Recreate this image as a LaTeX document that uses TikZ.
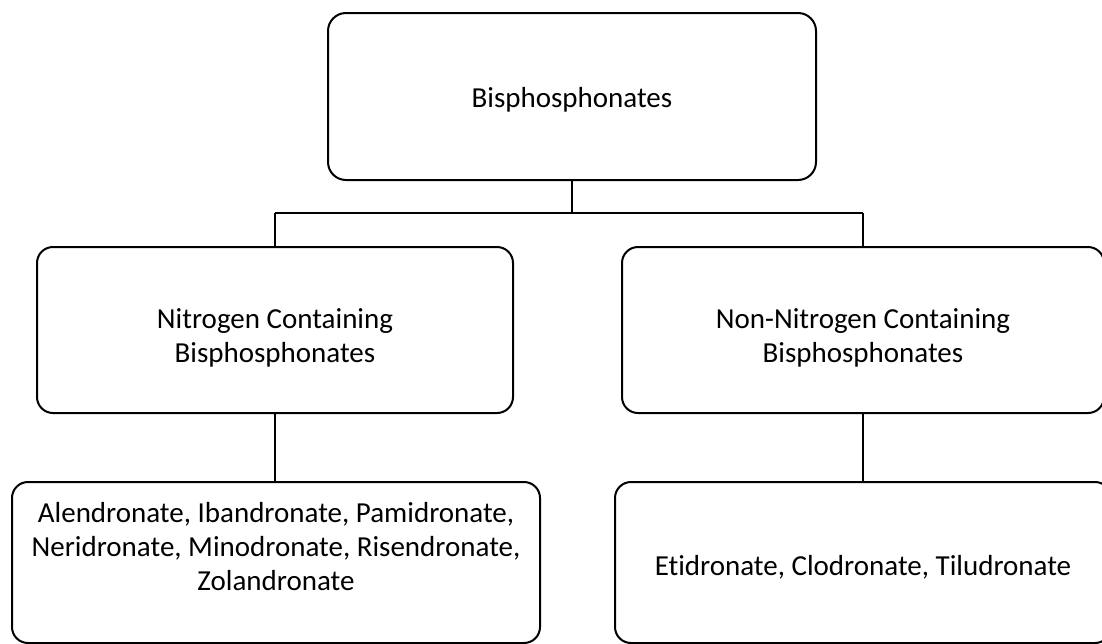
\documentclass[tikz,border=0pt]{standalone}
\usepackage{fontspec}
\setmainfont{Carlito}[Ligatures=NoCommon]
\usetikzlibrary{positioning}
\tikzstyle{entry}=[draw, line width=1pt, rounded corners=8pt, align=center, inner sep=0pt, font=\fontsize{14.5}{17}\selectfont]
\tikzstyle{root}=[entry, minimum width=244pt, minimum height=83.5pt, rounded corners=9pt]
\tikzstyle{group}=[entry, minimum height=83pt]
\tikzstyle{leaf}=[entry, minimum height=80.5pt]
\tikzstyle{caption}=[align=center, inner sep=0pt, font=\fontsize{14.5}{17}\selectfont]
\tikzstyle{link}=[line width=1pt]
\tikzstyle{bar}=[line width=0.75pt]

\begin{document}
\begin{tikzpicture}[x=0.5pt,y=-0.5pt]
\useasboundingbox (0,0) rectangle (1102,643);
\clip (0,0) rectangle (1102,643);

\node (root) [root, label={[caption, yshift=-1.5pt]center:{Bisphosphonates}}] at (572,96.5) {};

\node (nbp) [group, minimum width=238pt, label={[caption, yshift=-4pt]center:{Nitrogen Containing\\Bisphosphonates}}] at (275,330) {};
\node (nnbp) [group, minimum width=241pt, label={[caption, yshift=-4pt]center:{Non-Nitrogen Containing\\Bisphosphonates}}] at (863,330) {};

\node (nlist) [leaf, minimum width=264pt, label={[caption, yshift=8pt]center:{Alendronate, Ibandronate, Pamidronate,\\Neridronate, Minodronate, Risendronate,\\Zolandronate}}] at (276,562.5) {};
\node (nnlist) [leaf, minimum width=248pt, label={[caption, yshift=-2.5pt]center:{Etidronate, Clodronate, Tiludronate}}] at (863,562.5) {};

\coordinate (split) at (572,213);
\draw [link] (root.south) -- (split);
\draw [bar] (nbp.north |- split) -- (nnbp.north |- split);
\draw [link] (nbp.north) -- (nbp.north |- split);
\draw [link] (nnbp.north) -- (nnbp.north |- split);
\draw [link] (nbp.south) -- (nbp.south |- nlist.north);
\draw [link] (nnbp.south) -- (nnlist.north);

\end{tikzpicture}
\end{document}
